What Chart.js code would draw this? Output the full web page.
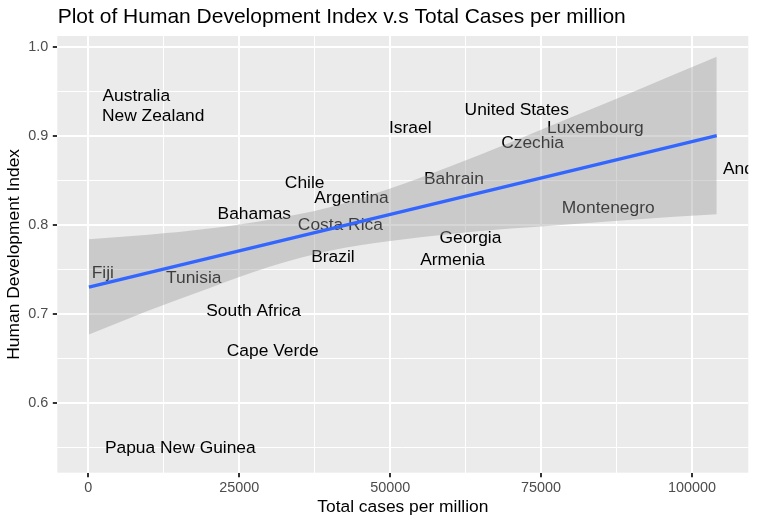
<!DOCTYPE html>
<html>
<head>
<meta charset="utf-8">
<script src="https://cdn.jsdelivr.net/npm/chart.js@4.4.0/dist/chart.umd.min.js"></script>
<style>
  html, body { margin: 0; padding: 0; background: #fff; }
  #wrap { width: 766px; height: 526px; }
</style>
</head>
<body>
<div id="wrap"><canvas id="hdiChart" width="766" height="526"></canvas></div>
<script>
// data
const countries = ["Australia", "New Zealand", "United States", "Israel", "Luxembourg",
  "Czechia", "Andorra", "Chile", "Bahrain", "Argentina", "Montenegro", "Bahamas",
  "Costa Rica", "Georgia", "Brazil", "Armenia", "Fiji", "Tunisia", "South Africa",
  "Cape Verde", "Papua New Guinea"];
const casesPerMillion = [1230, 560, 60600, 49100, 74400,
  67350, 104100, 31900, 54600, 36200, 76900, 20200,
  33300, 57150, 36200, 53900, 200, 11960, 17960,
  21420, 250];
const hdi = [0.946, 0.924, 0.931, 0.910, 0.910,
  0.894, 0.864, 0.849, 0.853, 0.832, 0.821, 0.814,
  0.801, 0.787, 0.766, 0.762, 0.747, 0.742, 0.705,
  0.660, 0.551];

// lm fit and its confidence band
const fitX = [100, 104100];
const fitY = [0.7302, 0.9004];
const bandX     = [100, 10000, 20000, 30000, 40000, 50000, 60000, 70000, 80000, 90000, 104100];
const bandUpper = [0.784, 0.789, 0.796, 0.806, 0.820, 0.841, 0.866, 0.893, 0.921, 0.949, 0.989];
const bandLower = [0.677, 0.704, 0.729, 0.753, 0.771, 0.782, 0.790, 0.796, 0.801, 0.806, 0.812];

const xTicks = [0, 12500, 25000, 37500, 50000, 62500, 75000, 87500, 100000];
const yTicks = [0.55, 0.6, 0.65, 0.7, 0.75, 0.8, 0.85, 0.9, 0.95, 1.0];

const FONT = '"Liberation Sans", Arial, Helvetica, sans-serif';
const TITLE = "Plot of Human Development Index v.s Total Cases per million";
const LABEL_SIZE = 17.4;

const isMajorX = v => v % 25000 === 0;
const isMajorY = v => Math.abs(v * 10 - Math.round(v * 10)) < 1e-6;

const toPoints = (xs, ys) => xs.map((x, i) => ({ x, y: ys[i] }));

// grey panel behind the grid
const panelBg = {
  id: "panelBg",
  beforeDraw(chart) {
    const { ctx, chartArea: a } = chart;
    ctx.save();
    ctx.fillStyle = "#EBEBEB";
    ctx.fillRect(a.left, a.top, a.right - a.left, a.bottom - a.top);
    ctx.restore();
  }
};

// country names, drawn under the ribbon
const textLabels = {
  id: "textLabels",
  afterDatasetDraw(chart, args) {
    if (args.index !== 3) return;
    const { ctx, chartArea: a } = chart;
    ctx.save();
    ctx.beginPath();
    ctx.rect(a.left, a.top, a.right - a.left, a.bottom - a.top);
    ctx.clip();
    ctx.font = LABEL_SIZE + "px " + FONT;
    ctx.fillStyle = "#000";
    ctx.textAlign = "left";
    ctx.textBaseline = "alphabetic";
    args.meta.data.forEach((pt, i) => {
      const w = ctx.measureText(countries[i]).width;
      ctx.fillText(countries[i], pt.x + 0.1 * w, pt.y + LABEL_SIZE * 0.716 / 2);
    });
    ctx.restore();
  }
};

const plotTitle = {
  id: "plotTitle",
  afterDraw(chart) {
    const { ctx, chartArea: a } = chart;
    ctx.save();
    ctx.font = "21px " + FONT;
    ctx.fillStyle = "#000";
    ctx.textAlign = "left";
    ctx.textBaseline = "alphabetic";
    ctx.fillText(TITLE, a.left + 0.4, 23);
    ctx.restore();
  }
};

new Chart(document.getElementById("hdiChart"), {
  type: "line",
  data: {
    datasets: [
      {
        label: "fit",
        data: toPoints(fitX, fitY),
        borderColor: "#3366FF",
        borderWidth: 3.2,
        pointRadius: 0,
        fill: false
      },
      {
        label: "upper",
        data: toPoints(bandX, bandUpper),
        borderColor: "rgba(0,0,0,0)",
        borderWidth: 0,
        pointRadius: 0,
        cubicInterpolationMode: "monotone",
        backgroundColor: "rgba(153,153,153,0.4)",
        fill: "+1"
      },
      {
        label: "lower",
        data: toPoints(bandX, bandLower),
        borderColor: "rgba(0,0,0,0)",
        borderWidth: 0,
        pointRadius: 0,
        cubicInterpolationMode: "monotone",
        fill: false
      },
      {
        label: "countries",
        data: toPoints(casesPerMillion, hdi),
        showLine: false,
        pointRadius: 0,
        pointHoverRadius: 0
      }
    ]
  },
  options: {
    responsive: false,
    animation: false,
    events: [],
    layout: { padding: { top: 36, right: 17.7, bottom: 0, left: 0 } },
    plugins: { legend: { display: false }, tooltip: { enabled: false } },
    scales: {
      x: {
        type: "linear",
        min: -5135,
        max: 109326,
        afterBuildTicks: s => { s.ticks = xTicks.map(v => ({ value: v })); },
        afterFit: s => { s.height = 53.3; },
        border: { display: false },
        grid: {
          color: "#fff",
          lineWidth: c => isMajorX(c.tick.value) ? 2 : 1,
          tickColor: c => isMajorX(c.tick.value) ? "#333" : "rgba(0,0,0,0)",
          tickWidth: 2,
          tickLength: 4.5
        },
        ticks: {
          autoSkip: false,
          maxRotation: 0,
          padding: 2.4,
          color: "#4D4D4D",
          font: { family: FONT, size: 14.4 },
          callback: v => isMajorX(v) ? String(v) : ""
        },
        title: {
          display: true,
          text: "Total cases per million",
          color: "#000",
          font: { family: FONT, size: 17.4 },
          padding: { top: 0, bottom: 8.6 }
        }
      },
      y: {
        type: "linear",
        min: 0.5217,
        max: 1.0124,
        afterBuildTicks: s => { s.ticks = yTicks.map(v => ({ value: v })); },
        afterFit: s => { s.width = 57.3; },
        border: { display: false },
        grid: {
          color: "#fff",
          lineWidth: c => isMajorY(c.tick.value) ? 2 : 1,
          tickColor: c => isMajorY(c.tick.value) ? "#333" : "rgba(0,0,0,0)",
          tickWidth: 2,
          tickLength: 4.5
        },
        ticks: {
          autoSkip: false,
          padding: 4.6,
          color: "#4D4D4D",
          font: { family: FONT, size: 14.4 },
          callback: v => isMajorY(v) ? v.toFixed(1) : ""
        },
        title: {
          display: true,
          text: "Human Development Index",
          color: "#000",
          font: { family: FONT, size: 17.4 },
          padding: { top: 4, bottom: 0 }
        }
      }
    }
  },
  plugins: [panelBg, textLabels, plotTitle]
});
</script>
</body>
</html>
